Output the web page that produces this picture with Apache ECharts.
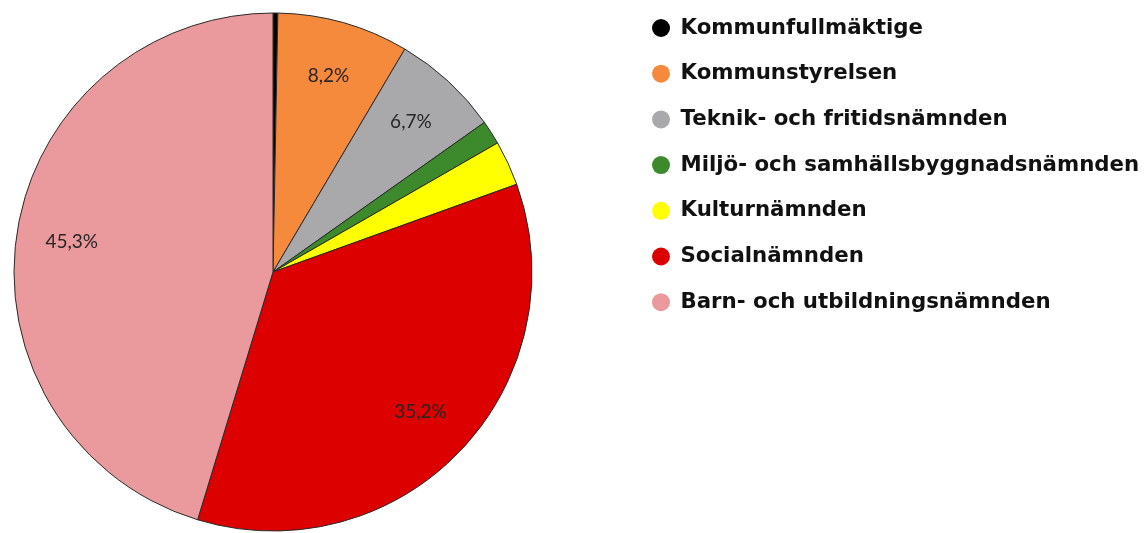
<!DOCTYPE html>
<html>
<head>
<meta charset="utf-8">
<script src="https://cdn.jsdelivr.net/npm/echarts@6/dist/echarts.min.js"></script>
<style>
  html, body { margin: 0; padding: 0; background: #fff; }
  #chart { width: 1148px; height: 533px; }
</style>
</head>
<body>
<div id="chart"></div>
<script>
// namn på nämnderna (legendens ordning)
const names = [
  "Kommunfullmäktige",
  "Kommunstyrelsen",
  "Teknik- och fritidsnämnden",
  "Miljö- och samhällsbyggnadsnämnden",
  "Kulturnämnden",
  "Socialnämnden",
  "Barn- och utbildningsnämnden"
];
// andel i procent
const shares = [0.3, 8.2, 6.7, 1.5, 2.8, 35.2, 45.3];
const colors = ["#000000", "#f58a3c", "#a9a9ab", "#3c8a2c", "#ffff00", "#dd0000", "#ea9a9c"];

const chart = echarts.init(document.getElementById("chart"));

const pieData = names.map((n, i) => ({ name: n, value: shares[i], itemStyle: { color: colors[i] } }));
// osynlig ring som bara bär etiketterna (hamnar längre ut i sektorn)
const labelData = names.map((n, i) => ({ name: n, value: shares[i] }));

const option = {
  backgroundColor: "#fff",
  animation: false,
  legend: {
    orient: "vertical",
    left: 647,
    top: 12,
    icon: "circle",
    itemWidth: 19,
    itemHeight: 18,
    itemGap: 23.7,
    data: names,
    itemStyle: { borderWidth: 0 },
    textStyle: {
      fontFamily: "DejaVu Sans",
      fontWeight: "bold",
      fontSize: 21.3,
      lineHeight: 22,
      color: "#111",
      padding: [0, 0, 0, 5]
    }
  },
  series: [
    {
      name: "andel",
      type: "pie",
      center: [273, 272],
      radius: [0, 259],
      startAngle: 90,
      clockwise: true,
      label: { show: false },
      labelLine: { show: false },
      itemStyle: { borderColor: "#2a2a2a", borderWidth: 1 },
      emphasis: { disabled: true },
      data: pieData
    },
    {
      name: "etiketter",
      type: "pie",
      center: [273, 272],
      radius: [142, 259],
      startAngle: 90,
      clockwise: true,
      silent: true,
      legendHoverLink: false,
      itemStyle: { color: "transparent", borderWidth: 0 },
      label: {
        show: true,
        position: "inside",
        fontFamily: "Lato",
        fontSize: 19,
        color: "#262626",
        formatter: p => p.value >= 5 ? String(p.value).replace(".", ",") + "%" : ""
      },
      labelLine: { show: false },
      emphasis: { disabled: true },
      data: labelData
    }
  ]
};

chart.setOption(option);
</script>
</body>
</html>
